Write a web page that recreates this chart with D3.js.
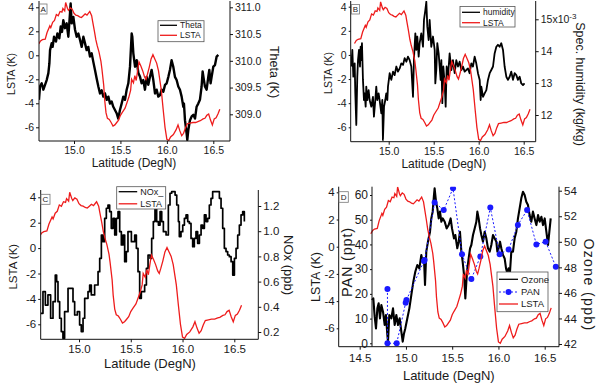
<!DOCTYPE html>
<html>
<head>
<meta charset="utf-8">
<script src="https://cdn.jsdelivr.net/npm/d3@7"></script>
<style>
body { margin: 0; background: #fff; }
svg text { font-family: "Liberation Sans", Arial, sans-serif; fill: #1a1a1a; }
</style>
</head>
<body>
<svg id="chart" width="596" height="383"></svg>
<script>
// LSTA (K) along the flight track, same in all panels
const lsta = [[14.62,0.95],[14.64,1.2],[14.66,1.3],[14.69,1.35],[14.71,1.9],[14.74,2.45],[14.75,2.3],[14.77,2.75],[14.79,2.9],[14.81,3.4],[14.83,3.3],[14.85,3.65],[14.87,3.6],[14.88,3.9],[14.90,3.7],[14.91,4.4],[14.93,3.9],[14.94,3.75],[14.96,3.95],[14.98,3.85],[15.00,3.5],[15.02,3.35],[15.04,3.3],[15.06,3.2],[15.08,3.15],[15.10,3.3],[15.12,3.45],[15.14,3.35],[15.16,3.55],[15.17,3.65],[15.19,3.3],[15.20,2.85],[15.22,2.0],[15.235,1.3],[15.25,0.8],[15.27,0.25],[15.29,-0.5],[15.30,-1.1],[15.32,-2.5],[15.33,-3.7],[15.345,-4.8],[15.36,-5.25],[15.38,-5.35],[15.40,-5.6],[15.42,-5.9],[15.44,-5.8],[15.46,-5.6],[15.48,-5.4],[15.50,-5.0],[15.52,-4.75],[15.55,-4.4],[15.57,-3.95],[15.59,-3.5],[15.61,-2.9],[15.62,-2.0],[15.64,-2.3],[15.655,-1.7],[15.67,-2.1],[15.69,-1.0],[15.70,-0.55],[15.72,-0.9],[15.74,-1.3],[15.76,-1.8],[15.775,-2.0],[15.79,-1.6],[15.81,-1.0],[15.83,-0.3],[15.85,0.05],[15.87,-0.3],[15.89,-0.65],[15.91,-1.3],[15.94,-2.9],[15.96,-4.5],[15.98,-6.0],[16.00,-7.0],[16.02,-7.1],[16.04,-6.8],[16.07,-6.6],[16.10,-6.2],[16.12,-5.8],[16.14,-6.3],[16.16,-6.7],[16.18,-6.5],[16.20,-6.05],[16.22,-5.7],[16.25,-5.65],[16.28,-5.6],[16.31,-5.6],[16.34,-5.5],[16.36,-5.45],[16.39,-5.3],[16.41,-5.25],[16.43,-5.0],[16.45,-4.9],[16.47,-5.4],[16.49,-5.8],[16.51,-5.3],[16.53,-5.2],[16.55,-4.9],[16.57,-4.5]];

// potential temperature (K)
const theta = [[14.623,309.27],[14.634,309.52],[14.652,309.58],[14.670,309.46],[14.688,309.55],[14.706,309.64],[14.724,309.77],[14.735,309.95],[14.742,310.20],[14.760,310.33],[14.770,310.26],[14.785,310.45],[14.806,310.36],[14.821,310.51],[14.842,310.42],[14.857,310.64],[14.871,310.54],[14.885,310.76],[14.903,310.61],[14.921,310.70],[14.939,310.45],[14.957,310.89],[14.964,311.07],[14.975,310.70],[14.993,310.82],[15.011,310.58],[15.029,310.45],[15.047,310.51],[15.065,310.39],[15.083,310.26],[15.101,310.45],[15.118,310.33],[15.136,310.20],[15.154,310.26],[15.172,310.08],[15.190,310.14],[15.208,309.98],[15.226,309.83],[15.244,309.67],[15.262,309.52],[15.280,309.39],[15.298,309.45],[15.316,309.33],[15.334,309.39],[15.352,309.27],[15.370,309.33],[15.388,309.20],[15.405,309.24],[15.423,309.14],[15.441,309.08],[15.459,309.02],[15.477,308.92],[15.495,309.08],[15.513,309.20],[15.531,309.33],[15.549,309.27],[15.567,309.46],[15.585,309.58],[15.603,309.89],[15.621,310.51],[15.628,310.45],[15.639,310.14],[15.657,309.89],[15.675,310.01],[15.693,309.77],[15.711,309.70],[15.728,309.58],[15.746,309.64],[15.764,309.46],[15.782,309.70],[15.800,309.55],[15.818,309.70],[15.836,309.83],[15.854,309.64],[15.872,309.39],[15.890,309.46],[15.908,309.33],[15.926,309.36],[15.944,309.46],[15.962,309.42],[15.980,309.55],[15.998,309.58],[16.016,309.70],[16.033,309.83],[16.051,310.01],[16.069,309.89],[16.087,309.70],[16.105,309.64],[16.123,309.52],[16.141,309.46],[16.159,309.33],[16.177,309.14],[16.184,309.20],[16.195,308.89],[16.213,308.64],[16.220,308.52],[16.231,308.71],[16.249,308.89],[16.267,308.96],[16.285,308.99],[16.303,308.92],[16.320,309.14],[16.338,309.20],[16.356,309.27],[16.374,309.52],[16.385,309.80],[16.399,309.64],[16.410,309.52],[16.428,309.46],[16.446,309.70],[16.457,309.83],[16.471,309.58],[16.482,309.70],[16.500,309.89],[16.518,309.92],[16.536,310.08],[16.554,310.11]];

// specific humidity (x10^-3 kg/kg)
const humidity = [[14.585,13.52],[14.596,14.04],[14.607,13.20],[14.622,13.62],[14.629,12.68],[14.640,11.69],[14.651,13.20],[14.659,13.72],[14.670,14.04],[14.681,13.52],[14.688,14.14],[14.696,13.72],[14.703,14.25],[14.714,13.10],[14.725,12.47],[14.733,12.68],[14.744,12.26],[14.751,12.89],[14.762,12.47],[14.777,12.78],[14.788,12.47],[14.807,12.26],[14.825,12.57],[14.836,11.95],[14.851,12.47],[14.862,12.89],[14.873,12.47],[14.888,12.68],[14.899,12.47],[14.918,12.05],[14.929,12.47],[14.936,11.22],[14.948,12.26],[14.962,12.47],[14.973,12.68],[14.985,12.47],[14.992,12.89],[15.011,13.31],[15.029,13.10],[15.048,13.36],[15.066,13.25],[15.085,13.52],[15.103,13.36],[15.122,13.46],[15.140,13.62],[15.159,13.57],[15.177,13.78],[15.196,13.67],[15.214,13.83],[15.233,13.72],[15.251,13.52],[15.270,12.57],[15.281,13.78],[15.296,14.56],[15.307,14.04],[15.318,14.46],[15.333,13.83],[15.344,14.25],[15.362,14.56],[15.381,14.14],[15.392,14.98],[15.407,15.29],[15.418,15.55],[15.429,14.77],[15.444,14.35],[15.455,14.98],[15.473,14.14],[15.492,14.46],[15.511,14.04],[15.518,12.99],[15.529,13.41],[15.540,14.25],[15.555,13.93],[15.566,13.52],[15.577,13.10],[15.585,13.72],[15.596,12.37],[15.607,13.52],[15.622,12.99],[15.633,12.26],[15.644,13.52],[15.659,13.20],[15.677,13.93],[15.696,13.41],[15.714,13.72],[15.733,13.31],[15.751,13.72],[15.770,13.52],[15.788,13.67],[15.807,13.41],[15.825,13.52],[15.844,13.36],[15.862,13.41],[15.881,13.46],[15.899,13.31],[15.918,13.62],[15.936,13.52],[15.955,13.83],[15.973,13.62],[15.992,13.31],[16.011,13.10],[16.022,12.47],[16.029,12.89],[16.048,12.57],[16.066,12.68],[16.085,12.78],[16.103,13.10],[16.122,13.31],[16.140,13.41],[16.159,13.52],[16.177,13.93],[16.196,14.14],[16.214,14.20],[16.233,14.14],[16.251,14.25],[16.270,14.04],[16.288,13.52],[16.307,13.20],[16.325,13.10],[16.344,13.20],[16.362,13.36],[16.381,13.10],[16.399,13.31],[16.418,13.25],[16.436,13.10],[16.455,13.20],[16.473,12.99],[16.492,12.94],[16.510,12.99]];

// NOx (ppb)
const nox = [[14.630,0.348],[14.652,0.520],[14.675,0.414],[14.700,0.494],[14.726,0.309],[14.749,0.441],[14.771,0.652],[14.784,0.600],[14.797,0.441],[14.813,0.309],[14.829,0.203],[14.845,0.150],[14.861,0.361],[14.894,0.547],[14.926,0.547],[14.942,0.441],[14.958,0.335],[14.984,0.361],[15.006,0.256],[15.022,0.203],[15.039,0.309],[15.055,0.467],[15.087,0.520],[15.103,0.573],[15.119,0.494],[15.151,0.573],[15.184,0.679],[15.200,0.785],[15.216,0.970],[15.232,0.917],[15.248,1.102],[15.264,1.182],[15.280,1.208],[15.296,1.155],[15.312,1.023],[15.329,1.102],[15.345,0.970],[15.361,1.102],[15.377,1.155],[15.393,0.996],[15.409,0.891],[15.425,0.970],[15.441,0.758],[15.457,0.838],[15.473,0.996],[15.506,0.917],[15.538,0.970],[15.554,0.864],[15.570,0.679],[15.586,0.467],[15.602,0.520],[15.634,0.573],[15.651,0.705],[15.667,0.811],[15.686,0.785],[15.702,0.943],[15.718,1.076],[15.734,1.208],[15.750,1.076],[15.767,1.049],[15.783,1.155],[15.799,1.076],[15.815,0.996],[15.841,0.970],[15.863,1.208],[15.879,1.301],[15.895,1.314],[15.928,1.287],[15.944,1.208],[15.960,1.076],[15.969,0.957],[15.985,0.996],[16.002,1.049],[16.018,1.102],[16.034,1.129],[16.050,1.076],[16.066,1.062],[16.082,0.943],[16.098,0.877],[16.114,0.943],[16.130,0.996],[16.146,0.904],[16.163,0.970],[16.179,1.049],[16.195,1.023],[16.211,1.129],[16.227,1.076],[16.243,1.102],[16.259,1.208],[16.275,1.261],[16.291,1.314],[16.314,1.314],[16.340,1.314],[16.356,1.261],[16.372,1.182],[16.388,1.023],[16.404,0.864],[16.420,0.838],[16.436,0.811],[16.452,0.798],[16.469,0.758],[16.485,0.652],[16.501,0.785],[16.517,0.864],[16.533,0.970],[16.549,1.049],[16.565,1.129],[16.581,1.155],[16.597,1.076]];

// ozone (ppb)
const ozone = [[14.633,45.44],[14.647,45.57],[14.662,44.14],[14.676,43.22],[14.691,44.79],[14.705,45.18],[14.719,44.01],[14.734,45.05],[14.752,44.53],[14.770,43.49],[14.784,44.27],[14.799,42.71],[14.806,42.18],[14.820,44.27],[14.842,44.01],[14.860,44.79],[14.878,43.49],[14.896,44.27],[14.914,43.49],[14.932,44.01],[14.950,42.96],[14.965,42.18],[14.979,42.83],[14.993,43.22],[15.015,44.01],[15.037,44.79],[15.058,45.83],[15.080,46.88],[15.101,47.66],[15.123,48.18],[15.145,47.92],[15.166,48.96],[15.181,48.44],[15.195,48.70],[15.206,46.62],[15.220,49.23],[15.238,50.01],[15.260,50.79],[15.274,51.83],[15.289,52.36],[15.303,53.66],[15.310,54.18],[15.325,53.14],[15.339,52.62],[15.354,51.83],[15.368,52.36],[15.383,51.57],[15.397,51.83],[15.419,51.57],[15.440,51.05],[15.462,51.31],[15.483,51.83],[15.498,51.05],[15.519,50.27],[15.534,50.53],[15.555,49.49],[15.570,50.01],[15.584,50.79],[15.599,49.23],[15.613,48.44],[15.628,47.40],[15.642,45.57],[15.653,46.88],[15.664,47.92],[15.678,48.70],[15.693,49.49],[15.707,49.75],[15.725,50.53],[15.743,51.05],[15.761,51.57],[15.772,52.36],[15.786,51.83],[15.801,51.05],[15.815,50.53],[15.833,50.01],[15.851,50.79],[15.869,50.27],[15.887,49.49],[15.905,49.23],[15.923,49.75],[15.941,50.53],[15.959,50.27],[15.977,50.01],[15.988,49.23],[16.002,49.49],[16.017,50.01],[16.031,49.49],[16.049,48.96],[16.067,48.70],[16.082,47.92],[16.096,47.53],[16.110,47.92],[16.125,47.66],[16.139,49.23],[16.157,49.23],[16.175,50.27],[16.193,50.79],[16.211,51.83],[16.229,52.62],[16.247,53.40],[16.265,53.92],[16.283,53.66],[16.301,53.14],[16.319,52.88],[16.337,52.09],[16.355,51.57],[16.373,52.36],[16.391,51.83],[16.410,51.31],[16.428,52.09],[16.446,51.57],[16.464,51.96],[16.482,51.31],[16.500,51.83],[16.518,50.79],[16.536,49.75],[16.554,51.05],[16.565,51.83]];

// PAN (ppt) samples
const pan = [[14.80,22.0],[14.80,0.0],[14.90,0.0],[14.997,16.4],[15.005,17.5],[15.195,33.3],[15.202,33.7],[15.31,57.0],[15.408,53.9],[15.509,62.7],[15.606,36.0],[15.707,26.0],[15.804,35.1],[15.912,54.9],[16.013,36.0],[16.11,38.0],[16.21,47.9],[16.31,53.9],[16.41,40.0],[16.51,41.1],[16.62,31.0]];

const lstaTicks = [-6, -4, -2, 0, 2, 4];
const latTicks = [15.0, 15.5, 16.0, 16.5];
const latTicksD = [14.5, 15.0, 15.5, 16.0, 16.5];
const thetaTicks = [309.0, 309.5, 310.0, 310.5, 311.0];
const humTicks = [12, 13, 14, 15];
const noxTicks = [0.2, 0.4, 0.6, 0.8, 1.0, 1.2];
const ozoneTicks = [42, 44, 46, 48, 50, 52, 54];
const panTicks = [0, 10, 20, 30, 40, 50, 60];

const RED = '#ee1c1c', BLUE = '#1a1aff';
const svg = d3.select('#chart');

function styleAxis(g, size) {
    g.select('.domain').remove();
    g.selectAll('.tick line').attr('stroke', '#111');
    g.selectAll('.tick text').attr('font-size', size).attr('fill', '#1a1a1a');
}

function drawPanel(p) {
    const x = d3.scaleLinear().domain(p.xRef).range(p.xPix);
    const yL = d3.scaleLinear().domain([-6, 4]).range(p.yLPix);
    const yR = d3.scaleLinear().domain(p.yRRef).range(p.yRPix);
    const g = svg.append('g');

    g.append('clipPath').attr('id', 'clip' + p.id)
        .append('rect')
        .attr('x', p.left).attr('y', p.top)
        .attr('width', p.right - p.left).attr('height', p.bottom - p.top);

    const plot = g.append('g').attr('clip-path', `url(#clip${p.id})`);

    plot.append('path')
        .datum(p.series)
        .attr('fill', 'none')
        .attr('stroke', '#000')
        .attr('stroke-width', p.blackWidth || 1.8)
        .attr('stroke-linejoin', 'round')
        .attr('d', d3.line().x(d => x(d[0])).y(d => yR(d[1])).curve(p.curve || d3.curveLinear));

    if (p.pan) {
        const yP = d3.scaleLinear().domain([0, 60]).range(p.yPPix);
        plot.append('path')
            .datum(pan)
            .attr('fill', 'none')
            .attr('stroke', BLUE)
            .attr('stroke-width', 1)
            .attr('stroke-dasharray', '2,2')
            .attr('d', d3.line().x(d => x(d[0])).y(d => yP(d[1])));
        plot.selectAll('circle.pan')
            .data(pan)
            .enter()
            .append('circle')
            .attr('class', 'pan')
            .attr('cx', d => x(d[0]))
            .attr('cy', d => yP(d[1]))
            .attr('r', 3)
            .attr('fill', BLUE);

        const pa = g.append('g')
            .attr('transform', `translate(${p.panX},0)`)
            .call(d3.axisLeft(yP).tickValues(panTicks).tickSize(2).tickPadding(2));
        styleAxis(pa, p.tickSize + 0.5);
        g.append('line').attr('x1', p.panX).attr('x2', p.panX)
            .attr('y1', p.top).attr('y2', p.bottom).attr('stroke', '#111');
        g.append('text')
            .attr('transform', `translate(${p.panTitleX},${p.panTitleY}) rotate(-90)`)
            .attr('text-anchor', 'middle')
            .attr('font-size', 14.5)
            .attr('letter-spacing', 0.8)
            .text('PAN (ppt)');
    }

    plot.append('path')
        .datum(lsta)
        .attr('fill', 'none')
        .attr('stroke', RED)
        .attr('stroke-width', 1.3)
        .attr('d', d3.line().x(d => x(d[0])).y(d => yL(d[1])));

    // frame
    g.append('path')
        .attr('d', `M${p.left},${p.top}V${p.bottom}H${p.right}V${p.top}`)
        .attr('fill', 'none').attr('stroke', '#111');

    const bx = g.append('g').attr('transform', `translate(0,${p.bottom})`)
        .call(d3.axisBottom(x).tickValues(p.xTicks).tickFormat(d3.format('.1f')).tickSize(3).tickPadding(p.xPad));
    styleAxis(bx, p.tickSize);

    const lx = g.append('g').attr('transform', `translate(${p.left},0)`)
        .call(d3.axisLeft(yL).tickValues(lstaTicks).tickFormat(d => String(d)).tickSize(p.lTick).tickPadding(2));
    styleAxis(lx, p.tickSize);

    const rx = g.append('g').attr('transform', `translate(${p.right},0)`)
        .call(d3.axisRight(yR).tickValues(p.rTicks).tickFormat(p.rFormat).tickSize(3).tickPadding(2));
    styleAxis(rx, p.tickSize);
    if (p.afterRight) p.afterRight(rx);

    g.append('text')
        .attr('x', p.xTitle[0]).attr('y', p.xTitle[1])
        .attr('text-anchor', 'middle')
        .attr('font-size', p.titleSize)
        .text('Latitude (DegN)');

    g.append('text')
        .attr('transform', `translate(${p.lTitle[0]},${p.lTitle[1]}) rotate(-90)`)
        .attr('text-anchor', 'middle')
        .attr('font-size', p.lTitleSize)
        .text('LSTA (K)');

    g.append('text')
        .attr('transform', `translate(${p.rTitle[0]},${p.rTitle[1]}) rotate(90)`)
        .attr('text-anchor', 'middle')
        .attr('font-size', p.rTitleSize)
        .attr('letter-spacing', p.rSpacing || 0)
        .text(p.rLabel);

    // panel letter
    g.append('rect')
        .attr('x', p.box[0]).attr('y', p.box[1]).attr('width', p.box[2]).attr('height', p.box[3])
        .attr('fill', '#fff').attr('stroke', '#777').attr('stroke-width', 0.8);
    g.append('text')
        .attr('x', p.box[0] + p.box[2] / 2).attr('y', p.box[1] + p.box[3] / 2)
        .attr('dy', '0.35em').attr('text-anchor', 'middle')
        .attr('font-size', 8).attr('fill', '#444')
        .text(p.id);

    // legend
    const L = p.legend;
    const lg = g.append('g');
    lg.append('rect').attr('x', L.x).attr('y', L.y).attr('width', L.w).attr('height', L.h)
        .attr('fill', '#fff').attr('stroke', '#555').attr('stroke-width', 0.8);
    L.items.forEach((it, i) => {
        const yy = L.rows[i];
        lg.append('line')
            .attr('x1', L.x + 2).attr('x2', L.x + 2 + L.len)
            .attr('y1', yy).attr('y2', yy)
            .attr('stroke', it.color)
            .attr('stroke-width', it.dash ? 1 : 1.3)
            .attr('stroke-dasharray', it.dash ? '2,2' : null);
        if (it.dot) {
            lg.append('circle').attr('cx', L.x + 2 + L.len / 2).attr('cy', yy).attr('r', 3).attr('fill', it.color);
        }
        lg.append('text')
            .attr('x', L.x + L.len + 5).attr('y', yy).attr('dy', '0.35em')
            .attr('font-size', L.font).attr('fill', '#333')
            .text(it.name);
    });
}

drawPanel({
    id: 'A', series: theta, blackWidth: 2.4,
    left: 39, right: 230, top: 1, bottom: 141,
    xRef: [15, 16.5], xPix: [74, 213.3], xTicks: latTicks, xPad: 2.5,
    yLPix: [127.3, 7.3], yRRef: [309, 311], yRPix: [114.3, 7.3],
    rTicks: thetaTicks, rFormat: d3.format('.1f'),
    tickSize: 10.5, lTick: 3, titleSize: 12, lTitleSize: 10.5, rTitleSize: 12.5,
    xTitle: [134, 167], lTitle: [15, 74], rTitle: [269.5, 72], rLabel: 'Theta (K)',
    box: [39.5, 4, 7.5, 10],
    legend: { x: 158, y: 20.7, w: 46, h: 21, len: 17, font: 8.5, rows: [25.3, 35.3],
        items: [{ name: 'Theta', color: '#000' }, { name: 'LSTA', color: RED }] }
});

drawPanel({
    id: 'B', series: humidity, blackWidth: 1.8,
    left: 350.7, right: 535.7, top: 1, bottom: 141.7,
    xRef: [15, 16.5], xPix: [388.7, 523.7], xTicks: latTicks, xPad: 2.5,
    yLPix: [127.3, 6.7], yRRef: [12, 15], yRPix: [115, 19.3],
    rTicks: humTicks, rFormat: d => d === 15 ? '15x10' : String(d),
    afterRight: ax => {
        ax.selectAll('.tick text').filter(d => d === 15)
            .append('tspan').attr('dy', '-0.5em').attr('font-size', 8).text('-3');
    },
    tickSize: 10.5, lTick: 2, titleSize: 12, lTitleSize: 10.5, rTitleSize: 12.5,
    xTitle: [443.8, 167.5], lTitle: [331.5, 73], rTitle: [575.5, 84], rLabel: 'Spec. humidity (kg/kg)',
    box: [351.5, 4.5, 8, 9.5],
    legend: { x: 460, y: 6.5, w: 55, h: 20.5, len: 18, font: 8.5, rows: [12.3, 22.7],
        items: [{ name: 'humidity', color: '#000' }, { name: 'LSTA', color: RED }] }
});

drawPanel({
    id: 'C', series: nox, curve: d3.curveStepAfter, blackWidth: 1.7,
    left: 40.7, right: 258.3, top: 190, bottom: 339.3,
    xRef: [15, 16.5], xPix: [79, 234.3], xTicks: latTicks, xPad: 2.5,
    yLPix: [324.3, 197.3], yRRef: [0.2, 1.2], yRPix: [332, 206],
    rTicks: noxTicks, rFormat: d3.format('.1f'),
    tickSize: 11.5, lTick: 2.5, titleSize: 13, lTitleSize: 11.5, rTitleSize: 13,
    xTitle: [150, 368], lTitle: [16.5, 266.7], rTitle: [283.5, 265], rLabel: 'NOx (ppb)',
    box: [41, 194.3, 9, 10],
    legend: { x: 116.7, y: 186.7, w: 49, h: 22.3, len: 18.5, font: 9, rows: [191.7, 203.8],
        items: [{ name: 'NOx_', color: '#000' }, { name: 'LSTA', color: RED }] }
});

drawPanel({
    id: 'D', series: ozone, pan: true, blackWidth: 2.1, yPPix: [343.3, 195], panX: 372, panTitleX: 352, panTitleY: 262,
    left: 338.7, right: 559, top: 186.7, bottom: 346.7,
    xRef: [14.5, 16.5], xPix: [359.7, 544.7], xTicks: latTicksD, xPad: 4,
    yLPix: [328.3, 192.3], yRRef: [42, 54], yRPix: [344, 190.7],
    rTicks: ozoneTicks, rFormat: d3.format('d'),
    tickSize: 11.5, lTick: 2, titleSize: 13, lTitleSize: 12.5, rTitleSize: 14, rSpacing: 1.4,
    xTitle: [448.8, 380], lTitle: [319.5, 277], rTitle: [584, 285], rLabel: 'Ozone (ppb)',
    box: [339, 191.7, 9.3, 10.6],
    legend: { x: 497, y: 272, w: 51, h: 39.7, len: 19, font: 9.5, rows: [279.3, 292, 304],
        items: [{ name: 'Ozone', color: '#000' }, { name: 'PAN', color: BLUE, dash: true, dot: true }, { name: 'LSTA', color: RED }] }
});
</script>
</body>
</html>
